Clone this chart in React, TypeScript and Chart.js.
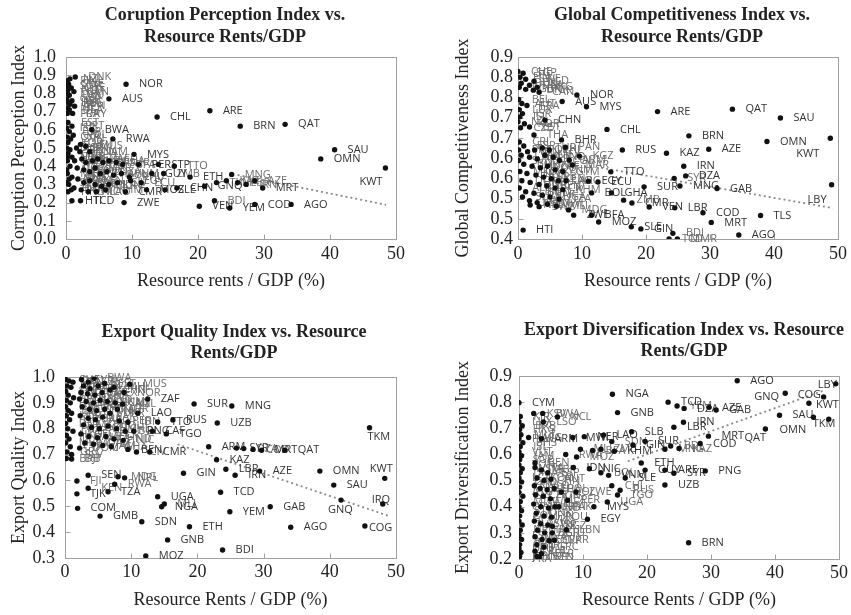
import React, { useEffect, useRef } from "react";
import { Chart, registerables } from "chart.js";
Chart.register(...registerables);

const SERIF = '"Liberation Serif", "Times New Roman", serif';
const SANS = '"Open Sans", "Liberation Sans", sans-serif';

// ---------------- Panel 1 : Corruption Perception Index ----------------
const cpiCodes = [
  "DNK","NZL","FIN","SWE","SGP","CHE","NLD","CAN","LUX","DEU","GBR","ISL","HKG","BEL","JPN","IRL","USA","URY","FRA",
  "NOR","AUS","CHL","ARE","BRN","QAT","SAU","OMN","KWT",
  "EST","PRT","ISR","BWA","ESP","POL","CYP","SVN","RWA","KOR","LTU","CPV","MUS","HUN","NAM","MYS",
  "CRI","LVA","CZE","JOR","GEO","TUN","HRV","ZAF","BRA","GHA","SUR","BFA","PER","STP","TTO",
  "ITA","GRC","ROU","IND","MAR","THA","DZA","BOL","VNM","PHL","EGY","ECU","GUY","ZMB","ETH",
  "MKD","ARG","MEX","PAK","KEN","NPL","UKR","IDN","CIV",
  "BGD","LBN","PRY","NIC","LAO","KHM","CMR","MOZ","SLE","CHN",
  "HTI","TCD","ZWE","VEN","BDI","YEM","COD","AGO",
  "MNG","KAZ","LBR","IRN","AZE","MRT","TKM","GNQ",
  "BHR","SRB","MNE","ALB","ARM","SLV","DOM","HND",
];
const cpiX = [
  1.4,0.6,0.2,0.4,0.1,0.8,0.3,1.2,0.2,0.5,0.1,0.9,0.3,0.6,1.3,0.2,0.5,1.0,0.2,
  9.1,6.5,13.8,21.8,26.4,33.2,40.7,38.6,48.4,
  0.3,0.9,0.1,3.9,0.5,1.1,0.2,0.7,7.1,0.3,2.2,1.6,3.0,2.1,3.6,10.3,
  0.3,0.9,0.2,1.3,2.4,3.0,4.0,4.8,5.6,6.5,7.6,8.6,11.0,14.0,16.4,
  0.6,1.7,2.7,3.6,4.4,5.2,6.2,7.2,8.4,9.6,9.8,11.4,13.0,14.8,18.8,
  0.2,0.9,1.8,2.7,3.6,4.4,5.4,6.5,7.8,
  0.4,1.2,2.3,3.4,4.6,6.0,9.0,12.2,15.0,16.8,
  0.9,2.2,8.8,20.2,22.5,24.8,28.6,34.1,
  25.1,24.3,26.0,27.3,28.6,29.8,22.8,21.0,
  0.1,0.6,0.2,0.1,0.5,0.1,0.8,0.3,
];
const cpiY = [
  0.89,0.88,0.87,0.85,0.84,0.83,0.82,0.81,0.80,0.79,0.77,0.76,0.75,0.74,0.73,0.72,0.71,0.69,0.69,
  0.85,0.77,0.67,0.705,0.62,0.63,0.49,0.44,0.39,
  0.64,0.62,0.61,0.60,0.59,0.57,0.56,0.55,0.55,0.53,0.52,0.50,0.51,0.48,0.48,0.465,
  0.47,0.45,0.43,0.43,0.44,0.42,0.43,0.44,0.42,0.43,0.42,0.41,0.41,0.41,0.40,
  0.40,0.39,0.38,0.37,0.39,0.36,0.37,0.35,0.36,0.34,0.32,0.31,0.36,0.36,0.34,
  0.36,0.34,0.33,0.31,0.32,0.30,0.29,0.30,0.31,
  0.30,0.28,0.27,0.26,0.26,0.27,0.26,0.27,0.27,0.28,
  0.21,0.21,0.20,0.18,0.21,0.17,0.19,0.19,
  0.355,0.32,0.31,0.30,0.32,0.28,0.31,0.29,
  0.50,0.49,0.45,0.38,0.33,0.31,0.27,0.26,
];
const cpiTrendX = [26, 48.5];
const cpiTrendY = [0.352, 0.188];

// ---------------- Panel 2 : Global Competitiveness Index ----------------
const gciCodes = [
  "CHE","SGP","FIN","SWE","NLD","DEU","USA","HKG","JPN","GBR","DNK","CAN","NOR","AUS",
  "MYS","BEL","AUT","FRA","LUX","ISR","ISL","NZL","KOR","CZE",
  "ARE","QAT","SAU","BRN","OMN","KWT","KAZ","AZE","IRN","DZA","SYR","MNG","GAB","SUR","LBY","LBR","COD","VEN",
  "MRT","TLS","AGO","BDI","TCD","MMR","RUS","CHL","TTO","EGY","ECU","BOL","GHA","ZMB",
  "CMR","SLE","GIN","MOZ","ZWE","BFA","MDG","SWZ","NPL","HTI","CHN","THA","BHR","PAN",
  "ARM","MAR","EST","KGZ",
  "CRI","ESP","PRT","IDN","POL","TUR","PHL",
  "LVA","ITA","PER","MEX","IND","COL",
  "SVN","BGR","HUN","ROU","ZAF","VNM","GTM",
  "MKD","HRV","JOR","SRB","KEN","LAO","ARG",
  "DOM","HND","NIC","BEN","CIV","KHM",
  "ALB","LBN","BGD","PAK","UGA","TZA",
  "SLV","JAM","SEN","MWI","MLI",
];
const gciX = [
  0.0,0.8,0.3,1.2,2.5,0.5,1.8,3.0,0.2,1.2,2.4,3.3,9.2,6.9,
  10.7,0.1,0.6,1.4,0.2,0.7,0.3,0.0,1.0,0.4,
  21.8,33.5,41.0,26.7,38.9,48.8,23.2,29.8,25.9,26.2,24.4,25.3,31.1,19.7,49.0,24.5,28.9,20.5,
  30.2,37.9,34.5,24.2,23.6,24.9,16.3,13.9,14.5,11.0,12.5,11.5,14.6,16.5,
  17.8,17.7,19.2,12.6,8.7,11.5,7.9,3.3,1.9,0.8,4.2,2.5,6.8,7.4,
  8.0,8.5,1.8,9.6,
  0.2,0.9,0.1,1.5,2.6,3.8,4.9,
  0.5,1.8,3.0,4.2,5.5,6.5,
  0.1,0.9,2.2,3.5,4.6,5.8,7.0,
  0.3,1.4,2.8,4.0,5.2,6.3,7.5,
  0.6,1.9,3.3,4.5,5.8,7.0,
  0.2,1.2,2.5,3.8,5.0,6.4,
  0.7,1.8,3.0,4.6,6.0,
];
const gciY = [
  0.814,0.81,0.80,0.795,0.79,0.785,0.78,0.775,0.775,0.77,0.768,0.763,0.756,0.74,
  0.727,0.745,0.735,0.73,0.72,0.71,0.702,0.69,0.685,0.675,
  0.715,0.721,0.699,0.655,0.641,0.649,0.612,0.622,0.58,0.556,0.55,0.531,0.525,0.529,0.534,0.477,0.465,0.479,
  0.441,0.458,0.41,0.414,0.40,0.40,0.62,0.671,0.566,0.543,0.541,0.514,0.514,0.496,
  0.489,0.43,0.425,0.442,0.459,0.459,0.472,0.48,0.484,0.422,0.694,0.657,0.645,0.627,
  0.595,0.583,0.677,0.605,
  0.64,0.63,0.62,0.616,0.62,0.625,0.62,
  0.607,0.602,0.598,0.607,0.602,0.594,
  0.594,0.585,0.58,0.576,0.58,0.571,0.567,
  0.567,0.562,0.558,0.553,0.549,0.544,0.544,
  0.544,0.54,0.535,0.531,0.526,0.522,
  0.526,0.517,0.513,0.508,0.504,0.499,
  0.504,0.495,0.49,0.486,0.481,
];
const gciTickLabels = ["0.4","0.5","0.5","0.6","0.6","0.7","0.7","0.8","0.8","0.9"];
const gciTrendX = [13, 49.2];
const gciTrendY = [0.576, 0.4765];

// ---------------- Panel 3 : Export Quality Index ----------------
const eqiCodes = [
  "CHE","DEU","JPN","FRA","GBR","SWE","ITA","AUT","BEL","NLD","FIN","ESP","IRL","KOR","ISR","DNK","PRT","SGP","HKG","LUX","MLT","CYP","GRC","SLV","BRB","DJI",
  "SVN","CZE","BWA","HUN","POL","SVK","EST","LTU","LVA","THA","MEX","CHN","MHL","MUS","NOR","ZAF",
  "TUR","ROU","BGR","IND","VNM","CAN","NZL","HRV","PHL","TUN","MAR","JOR","UKR","LAO","SUR","MNG",
  "UZB","SRB","BRA","ARG","PAK","PER","IDN","MKD","BGD","KHM","COL","CHL","BOL","PNG","GEO","ALB",
  "LKA","EGY","HND","NIC","MDA","GTM","JAM","GHA","BEN","CIV","CMR","DOM","TTO","RUS","TGO","CAF",
  "ARM","SYR","DZA","COD","MRT","QAT","KAZ","LBR","IRN","AZE","OMN","SAU","KWT","TKM","IRQ","GNQ",
  "COG","GAB","YEM","AGO","TCD","BDI","GIN","UGA","NGA","MLI","SDN","ETH","GNB","MOZ","GMB","COM","TJK",
  "FJI","SEN","KEN","TZA","RWA","MDG","NPL",
];
const eqiX = [
  0.1,0.6,1.2,0.3,0.9,0.1,0.5,1.3,0.2,0.8,0.1,0.5,1.0,0.2,0.7,0.1,0.4,1.2,0.2,0.6,0.1,0.8,0.3,1.0,0.2,1.0,
  2.5,3.5,4.4,2.8,3.8,5.0,6.0,2.4,3.4,4.5,5.6,6.8,7.4,9.8,8.9,12.5,
  2.2,3.2,4.3,5.3,6.4,7.6,8.7,2.6,3.7,4.8,6.0,7.9,6.8,11.0,19.5,25.2,
  23.0,2.3,3.5,4.6,5.7,8.2,9.5,2.8,4.0,5.2,6.5,7.8,9.1,10.4,2.4,3.6,
  4.9,6.2,7.4,8.8,3.0,4.3,5.7,7.0,9.5,10.8,12.8,2.2,14.0,16.3,15.3,13.2,
  21.7,25.9,27.0,28.4,29.7,33.2,22.9,24.3,25.7,29.4,38.5,40.6,48.3,46.0,48.0,41.7,
  45.3,31.0,24.9,34.1,23.5,23.8,17.9,14.0,14.6,15.0,11.6,18.8,15.5,12.2,5.3,1.9,1.8,
  1.8,3.5,3.5,6.5,7.5,8.0,9.0,
];
const eqiY = [
  0.99,0.985,0.98,0.965,0.96,0.945,0.93,0.92,0.91,0.90,0.885,0.87,0.86,0.85,0.835,0.82,0.80,0.79,0.775,0.76,0.745,0.73,0.71,0.70,0.685,0.683,
  0.99,0.98,0.995,0.965,0.955,0.965,0.975,0.94,0.935,0.93,0.94,0.95,0.96,0.972,0.94,0.915,
  0.915,0.905,0.90,0.91,0.905,0.90,0.895,0.885,0.875,0.87,0.875,0.875,0.86,0.86,0.896,0.888,
  0.822,0.85,0.84,0.835,0.845,0.83,0.825,0.815,0.805,0.80,0.81,0.80,0.79,0.79,0.78,0.77,
  0.765,0.77,0.76,0.755,0.745,0.74,0.735,0.73,0.72,0.71,0.71,0.725,0.826,0.834,0.78,0.79,
  0.73,0.725,0.723,0.72,0.717,0.717,0.68,0.643,0.62,0.636,0.636,0.582,0.608,0.804,0.509,0.524,
  0.424,0.498,0.479,0.419,0.554,0.331,0.628,0.537,0.498,0.509,0.44,0.421,0.37,0.308,0.462,0.492,0.548,
  0.598,0.62,0.57,0.556,0.585,0.614,0.61,
];
const eqiTrendX = [17, 49.1];
const eqiTrendY = [0.74, 0.461];

// ---------------- Panel 4 : Export Diversification Index ----------------
const ediCodes = [
  "CYM","KIR","LUX","BRB","HKG","MLT","PLW","BHS","ISL","VUT","JAM","SGP","TON","WSM","DMA","LCA","GRD","KNA","ATG","SYC",
  "MDV","CPV","STP","COM","FJI","TUV","NRU","FSM","MHL","CHE","DEU","USA","JPN","FRA",
  "ITA","GBR","ESP","KOR","CHN","AUT","NLD","BEL","THA","POL","CZE","HUN","MEX","SWE","TUR","IND","PRT","DNK","FIN","ROU",
  "SVK","SVN","ISR","HRV","BGR","LTU","LVA","EST","CYP","IRL","GRC","PHL","BLR","NZL",
  "BTN","UKR","LBN","KGZ","EGY","MYS","UGA","TGO","ZWE","COL","PER","PAK","BWA","KSV","NCL","LSO","AFG","ARM","MWI","NER",
  "LAO","SDN","SLB","SUR","GIN","MLI","BFA","ZMB","KHM","RWA","MOZ","BEN","ETH","GUY","IDN","NIC","BOL","VNM",
  "SLE","CHL","RUS",
  "NGA","GNB","TCD","YEM","DZA","AZE","GAB","AGO","GNQ","COG","KWT","LBY","SAU","TKM","OMN","QAT","MRT","COD","IRN","LBR",
  "BDI","KAZ","MNG","ARE","SYR","PNG","UZB","BRN",
];
const ediX = [
  0.0,0.2,0.0,0.5,0.1,0.3,0.0,0.6,0.2,0.0,0.4,0.1,0.0,0.5,0.2,0.0,0.4,0.1,0.0,0.6,
  0.2,0.0,0.4,0.1,0.0,0.5,0.2,0.0,0.4,0.1,0.0,0.3,0.1,0.0,
  2.5,3.5,4.5,2.8,3.9,5.0,2.4,3.3,4.4,5.5,2.6,3.8,4.9,2.3,3.4,4.6,5.6,2.7,3.9,5.1,
  2.4,3.4,4.5,2.9,4.0,5.2,2.5,3.6,4.7,2.8,3.9,2.5,3.5,2.8,
  3.2,5.5,7.4,5.2,10.7,11.7,13.8,15.4,8.9,6.6,7.6,6.2,3.7,2.3,6.0,3.8,1.5,3.5,8.4,10.2,
  13.2,14.5,17.6,19.7,17.8,9.6,11.5,12.8,14.9,7.3,9.0,2.5,19.1,19.7,8.5,11.0,12.8,14.0,
  16.6,14.5,15.8,
  14.6,15.4,23.3,24.7,25.8,29.7,30.8,34.1,41.6,47.6,45.3,49.5,46.0,48.4,40.7,38.5,29.6,28.3,25.7,24.2,
  23.7,25.0,22.8,22.8,24.2,29.1,22.8,26.5,
];
const ediY = [
  0.798,0.745,0.725,0.71,0.695,0.675,0.66,0.645,0.63,0.61,0.595,0.58,0.56,0.545,0.53,0.51,0.495,0.475,0.455,0.44,
  0.42,0.40,0.385,0.365,0.345,0.33,0.31,0.29,0.275,0.255,0.24,0.225,0.21,0.20,
  0.55,0.54,0.53,0.51,0.50,0.505,0.48,0.47,0.465,0.47,0.445,0.44,0.43,0.41,0.40,0.395,0.40,0.375,0.365,0.36,
  0.345,0.335,0.33,0.31,0.30,0.30,0.285,0.275,0.27,0.255,0.245,0.23,0.22,0.21,
  0.207,0.272,0.311,0.325,0.352,0.40,0.418,0.445,0.456,0.456,0.425,0.40,0.757,0.757,0.743,0.724,0.665,0.66,0.665,0.668,
  0.674,0.649,0.687,0.65,0.636,0.62,0.615,0.62,0.612,0.60,0.59,0.567,0.567,0.54,0.55,0.545,0.53,0.52,
  0.51,0.48,0.463,
  0.83,0.76,0.80,0.785,0.776,0.78,0.77,0.882,0.834,0.82,0.796,0.87,0.742,0.735,0.75,0.697,0.67,0.642,0.723,0.704,
  0.632,0.623,0.62,0.54,0.528,0.537,0.483,0.262,
];
const ediTrendX = [17, 47.8];
const ediTrendY = [0.574, 0.846];

// ---------------- layout / style (not data) ----------------
type Spec = {
  left: number; top: number; w: number; h: number;
  area: { l: number; r: number; t: number; b: number };
  title: string[]; titleX: number; titleY: number[];
  yTitle: string; xTitle: string;
  yMin: number; yMax: number; yStep: number; yLabels?: string[];
  codes: string[]; xs: number[]; ys: number[];
  trendX: number[]; trendY: number[];
  shifts: Record<string, [number, number]>;
  yTitlePad: number; xTitlePad: number; yTickPad: number; xTickPad: number;
};

const specs: Spec[] = [
  {
    left: 0, top: 0, w: 425, h: 307, area: { l: 66, r: 396, t: 57, b: 239 },
    title: ["Coruption Perception Index vs.", "Resource Rents/GDP"], titleX: 225, titleY: [15, 37],
    yTitle: "Corruption Perception Index", xTitle: "Resource rents / GDP (%)",
    yMin: 0, yMax: 1, yStep: 0.1,
    codes: cpiCodes, xs: cpiX, ys: cpiY, trendX: cpiTrendX, trendY: cpiTrendY,
    shifts: { KWT: [-26, 14] },
    yTitlePad: 8, xTitlePad: 15, yTickPad: 10, xTickPad: 4,
  },
  {
    left: 425, top: 0, w: 426, h: 307, area: { l: 93, r: 415, t: 57, b: 239 },
    title: ["Global Competitiveness Index vs.", "Resource Rents/GDP"], titleX: 257, titleY: [15, 37],
    yTitle: "Global Competitiveness Index", xTitle: "Resource rents / GDP (%)",
    yMin: 0.4, yMax: 0.85, yStep: 0.05, yLabels: gciTickLabels,
    codes: gciCodes, xs: gciX, ys: gciY, trendX: gciTrendX, trendY: gciTrendY,
    shifts: { KWT: [-34, 16], LBY: [-24, 15] },
    yTitlePad: 27, xTitlePad: 15, yTickPad: 5, xTickPad: 4,
  },
  {
    left: 0, top: 307, w: 425, h: 308, area: { l: 65, r: 396, t: 70, b: 251 },
    title: ["Export Quality Index vs. Resource", "Rents/GDP"], titleX: 234, titleY: [25, 46],
    yTitle: "Export Quality Index", xTitle: "Resource Rents / GDP (%)",
    yMin: 0.3, yMax: 1.0, yStep: 0.1,
    codes: eqiCodes, xs: eqiX, ys: eqiY, trendX: eqiTrendX, trendY: eqiTrendY,
    shifts: { KWT: [-15, -10], TKM: [-2, 9], IRQ: [-11, -4], GNQ: [-13, 10], COG: [4, 2] },
    yTitlePad: 8, xTitlePad: 4, yTickPad: 10, xTickPad: 3,
  },
  {
    left: 425, top: 307, w: 426, h: 308, area: { l: 94, r: 418, t: 69, b: 252 },
    title: ["Export Diversification Index vs. Resource", "Rents/GDP"], titleX: 259, titleY: [23, 44],
    yTitle: "Export Driversification Index", xTitle: "Resource Rents / GDP (%)",
    yMin: 0.2, yMax: 0.9, yStep: 0.1,
    codes: ediCodes, xs: ediX, ys: ediY, trendX: ediTrendX, trendY: ediTrendY,
    shifts: { GNQ: [-31, 4], COG: [-26, -2], KWT: [7, 2], LBY: [-18, 1], SAU: [-21, -2], TKM: [-16, 5], OMN: [0, 15], QAT: [-21, 9] },
    yTitlePad: 27, xTitlePad: 4, yTickPad: 7, xTickPad: 3,
  },
];

function Panel({ spec }: { spec: Spec }) {
  const ref = useRef<HTMLCanvasElement | null>(null);
  useEffect(() => {
    const canvas = ref.current;
    if (!canvas) return;
    const pts = spec.xs.map((x, i) => ({ x, y: spec.ys[i] }));
    const trend = spec.trendX.map((x, i) => ({ x, y: spec.trendY[i] }));

    const framePlugin = {
      id: "frame",
      beforeDatasetsDraw(chart: any) {
        const { ctx, chartArea: a, scales } = chart;
        ctx.save();
        ctx.strokeStyle = "#a0a0a0";
        ctx.lineWidth = 1;
        const l = Math.round(a.left) + 0.5, t = Math.round(a.top) + 0.5;
        const r = Math.round(a.right) + 0.5, b = Math.round(a.bottom) + 0.5;
        ctx.strokeRect(l, t, r - l, b - t);
        ctx.beginPath();
        scales.y.ticks.forEach((tk: any) => {
          const y = Math.round(scales.y.getPixelForValue(tk.value)) + 0.5;
          ctx.moveTo(l, y); ctx.lineTo(l + 5, y);
        });
        scales.x.ticks.forEach((tk: any) => {
          const x = Math.round(scales.x.getPixelForValue(tk.value)) + 0.5;
          ctx.moveTo(x, b); ctx.lineTo(x, b - 5);
        });
        ctx.stroke();
        ctx.restore();
      },
    };

    const labelPlugin = {
      id: "ptLabels",
      beforeDatasetDraw(chart: any, args: any) {
        if (args.index !== 0) return;
        const { ctx } = chart;
        const els = chart.getDatasetMeta(0).data as any[];
        const P = els.map((e) => ({ x: e.x, y: e.y }));
        const items = P.map((p, i) => {
          let n = 0;
          for (let j = 0; j < P.length; j++) {
            if (j !== i && Math.abs(P[j].x - p.x) < 16 && Math.abs(P[j].y - p.y) < 9) n++;
          }
          return { i, dense: n >= 2 };
        });
        ctx.save();
        ctx.font = `11px ${SANS}`;
        ctx.textBaseline = "middle";
        ctx.textAlign = "left";
        const draw = (dense: boolean) => {
          items.filter((it) => it.dense === dense).forEach(({ i }) => {
            const code = spec.codes[i];
            if (!code) return;
            const s = spec.shifts[code] || [13, 0];
            ctx.fillStyle = dense ? "#6c6c6c" : "#333333";
            ctx.fillText(code, P[i].x + s[0], P[i].y + s[1]);
          });
        };
        draw(true);
        draw(false);
        ctx.restore();
      },
    };

    const titlePlugin = {
      id: "panelTitle",
      afterDraw(chart: any) {
        const { ctx } = chart;
        ctx.save();
        ctx.font = `bold 18px ${SERIF}`;
        ctx.fillStyle = "#222";
        ctx.textAlign = "center";
        ctx.textBaseline = "middle";
        spec.title.forEach((line, k) => ctx.fillText(line, spec.titleX, spec.titleY[k]));
        ctx.restore();
      },
    };

    const tickFont = { family: SERIF, size: 18 };
    const chart = new Chart(canvas, {
      type: "scatter",
      data: {
        datasets: [
          {
            data: pts,
            pointRadius: 2.7,
            pointHoverRadius: 2.7,
            pointBackgroundColor: "#111",
            pointBorderColor: "#111",
            pointBorderWidth: 0,
            order: 1,
          },
          {
            data: trend,
            showLine: true,
            pointRadius: 0,
            borderColor: "#8a8a8a",
            borderWidth: 1.8,
            borderDash: [2, 3],
            fill: false,
            order: 2,
          } as any,
        ],
      },
      options: {
        responsive: false,
        animation: false,
        devicePixelRatio: 1,
        events: [],
        layout: { padding: { left: 0, top: spec.area.t, right: spec.w - spec.area.r, bottom: 0 } },
        plugins: { legend: { display: false }, tooltip: { enabled: false }, title: { display: false } },
        scales: {
          x: {
            type: "linear",
            min: 0,
            max: 50,
            ticks: { stepSize: 10, autoSkip: false, color: "#222", font: tickFont, padding: spec.xTickPad, maxRotation: 0, callback: (v: any) => String(v) },
            grid: { display: false, drawTicks: false },
            border: { display: false },
            title: { display: true, text: spec.xTitle, color: "#222", font: tickFont, padding: { top: 0, bottom: spec.xTitlePad } },
            afterFit: (s: any) => { s.height = spec.h - spec.area.b; },
          },
          y: {
            type: "linear",
            min: spec.yMin,
            max: spec.yMax,
            ticks: {
              stepSize: spec.yStep,
              autoSkip: false,
              color: "#222",
              font: tickFont,
              padding: spec.yTickPad,
              callback: (v: any, i: number) => (spec.yLabels ? spec.yLabels[i] : Number(v).toFixed(1)),
            },
            grid: { display: false, drawTicks: false },
            border: { display: false },
            title: { display: true, text: spec.yTitle, color: "#222", font: tickFont, padding: { top: spec.yTitlePad, bottom: 0 } },
            afterFit: (s: any) => { s.width = spec.area.l; },
          },
        },
      } as any,
      plugins: [framePlugin, labelPlugin, titlePlugin],
    });
    return () => chart.destroy();
  }, [spec]);

  return (
    <canvas
      ref={ref}
      width={spec.w}
      height={spec.h}
      style={{ position: "absolute", left: spec.left, top: spec.top, width: spec.w, height: spec.h }}
    />
  );
}

export default function App() {
  return (
    <div style={{ position: "absolute", left: 0, top: 0, width: 851, height: 615, background: "#fff", overflow: "hidden" }}>
      {specs.map((s, k) => (
        <Panel key={k} spec={s} />
      ))}
    </div>
  );
}
